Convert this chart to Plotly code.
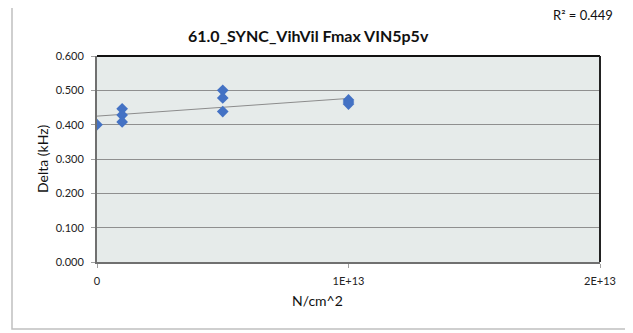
import numpy as np
import plotly.graph_objects as go

# Data
fluence = [0, 1e12, 1e12, 1e12, 5e12, 5e12, 5e12, 1e13, 1e13, 1e13]
delta = [0.400, 0.446, 0.428, 0.408, 0.500, 0.478, 0.438, 0.472, 0.466, 0.460]
x_ticks = [0, 1e13, 2e13]
x_tick_labels = ["0", "1E+13", "2E+13"]
y_ticks = [0.0, 0.1, 0.2, 0.3, 0.4, 0.5, 0.6]
y_tick_labels = ["0.000", "0.100", "0.200", "0.300", "0.400", "0.500", "0.600"]
title = "61.0_SYNC_VihVil Fmax VIN5p5v"
r2_label = "R² = 0.449"
x_title = "N/cm^2"
y_title = "Delta (kHz)"

# Linear trend line
slope, intercept = np.polyfit(fluence, delta, 1)
trend_x = [min(fluence), max(fluence)]
trend_y = [intercept + slope * v for v in trend_x]

FONT = "Lato, 'Open Sans', sans-serif"

# page offset of the figure (body margin)
OFF = 8
L, T, R_EDGE, B_EDGE = 97, 56, 600, 262
W, H = 633, 333
PW, PH = R_EDGE - L, B_EDGE - T


def px(xpix):
    return (xpix - L) / PW


def py(ypix):
    return (B_EDGE - ypix) / PH


fig = go.Figure()
fig.add_trace(go.Scatter(
    x=trend_x, y=trend_y, mode="lines",
    line=dict(color="#8c8c8c", width=1), hoverinfo="skip", showlegend=False))
fig.add_trace(go.Scatter(
    x=fluence, y=delta, mode="markers",
    marker=dict(symbol="diamond", size=9, color="#4472C4"),
    showlegend=False))

fig.update_layout(
    width=W, height=H,
    margin=dict(l=L - OFF, r=W - (R_EDGE - OFF), t=T - OFF, b=H - (B_EDGE - OFF),
                autoexpand=False),
    paper_bgcolor="white", plot_bgcolor="#E6EBEA",
    font=dict(family=FONT, size=11, color="#222222"),
    xaxis=dict(range=[0, 2e13], tickvals=x_ticks, ticktext=x_tick_labels,
               showgrid=False, zeroline=False, showline=True, linecolor="#707070",
               linewidth=2, ticks="outside", ticklen=4, tickcolor="#a0a0a0",
               tickfont=dict(size=11), ticklabelstandoff=4),
    yaxis=dict(range=[0, 0.6], tickvals=y_ticks, ticktext=y_tick_labels,
               showgrid=True, gridcolor="#8f8f8f", gridwidth=1, zeroline=False,
               showline=True, linecolor="#707070", linewidth=2,
               ticks="outside", ticklen=4, tickcolor="#a0a0a0",
               tickfont=dict(size=11), ticklabelstandoff=5),
)

# top and right plot borders (dark)
fig.add_shape(type="line", xref="paper", yref="paper", x0=0, x1=1, y0=1, y1=1,
              line=dict(color="#111111", width=2))
fig.add_shape(type="line", xref="paper", yref="paper", x0=1, x1=1, y0=0, y1=1,
              line=dict(color="#222222", width=2))
# outer chart frame
fig.add_shape(type="rect", xref="paper", yref="paper",
              x0=px(12), x1=px(660), y0=py(329), y1=py(3),
              line=dict(color="#c0c0c0", width=1.5), layer="below")

fig.add_annotation(text="<b>" + title + "</b>", xref="paper", yref="paper",
                   x=px(308), y=py(35), xanchor="center", yanchor="middle",
                   showarrow=False,
                   font=dict(size=16, family=FONT, color="#111111"))
fig.add_annotation(text=r2_label, xref="paper", yref="paper",
                   x=px(583), y=py(15), xanchor="center", yanchor="middle",
                   showarrow=False,
                   font=dict(size=13, family=FONT, color="#111111"))
fig.add_annotation(text=x_title, xref="paper", yref="paper",
                   x=px(317), y=py(300), xanchor="center", yanchor="middle",
                   showarrow=False,
                   font=dict(size=14, family=FONT, color="#111111"))
fig.add_annotation(text=y_title, xref="paper", yref="paper",
                   x=px(42), y=py(159), xanchor="center", yanchor="middle",
                   textangle=-90, showarrow=False,
                   font=dict(size=14, family=FONT, color="#111111"))

fig.write_html("out.html")
